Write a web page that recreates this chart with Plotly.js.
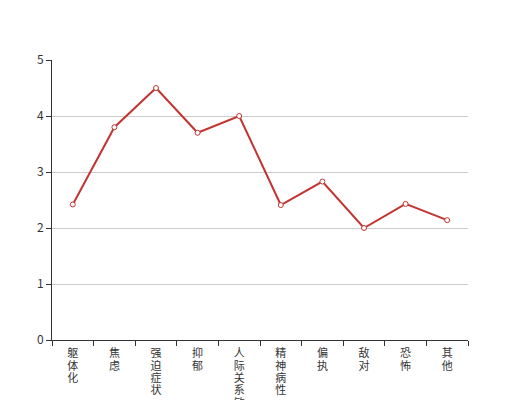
<!DOCTYPE html>
<html>
<head>
<meta charset="utf-8">
<script src="https://cdn.plot.ly/plotly-3.0.1.min.js"></script>
<style>html,body{margin:0;padding:0;background:#fff;}#chart{width:520px;height:400px;}</style>
</head>
<body>
<div id="chart"></div>
<script>
const categories = ["躯体化", "焦虑", "强迫症状", "抑郁", "人际关系敏感", "精神病性", "偏执", "敌对", "恐怖", "其他"];
const values = [2.42, 3.80, 4.50, 3.70, 4.00, 2.41, 2.83, 2.00, 2.43, 2.14];
const yTicks = [0, 1, 2, 3, 4, 5];

const tickText = categories.map(c => c.split("").join("<br>"));

const trace = {
  type: "scatter",
  mode: "lines+markers",
  x: categories,
  y: values,
  line: {color: "#c23531", width: 2},
  marker: {symbol: "circle", size: 5, color: "#ffffff", line: {color: "#c23531", width: 1}},
  hoverinfo: "x+y"
};

const layout = {
  width: 520,
  height: 400,
  margin: {l: 52, r: 52, t: 60, b: 60},
  paper_bgcolor: "#ffffff",
  plot_bgcolor: "#ffffff",
  showlegend: false,
  font: {family: "'Noto Sans CJK SC', 'Noto Sans', sans-serif", size: 12, color: "#333"},
  xaxis: {
    type: "category",
    tickvals: categories,
    ticktext: tickText,
    tickson: "boundaries",
    ticks: "outside",
    ticklen: 5,
    tickcolor: "#333",
    showline: true,
    linecolor: "#333",
    linewidth: 1,
    showgrid: false,
    zeroline: false,
    tickangle: 0,
    ticklabelstandoff: 3,
    tickfont: {size: 11, color: "#333"},
    range: [-0.5, 9.5],
    fixedrange: true
  },
  yaxis: {
    range: [0, 5],
    tickvals: yTicks,
    ticks: "outside",
    ticklen: 5,
    tickcolor: "#333",
    showline: true,
    linecolor: "#333",
    linewidth: 1,
    showgrid: true,
    gridcolor: "#cccccc",
    gridwidth: 1,
    zeroline: false,
    tickfont: {size: 12, color: "#333"},
    fixedrange: true
  }
};

Plotly.newPlot("chart", [trace], layout, {displayModeBar: false, staticPlot: true}).then(function (gd) {
  // character stacking step ≈ 12.4px, as in the reference
  gd.querySelectorAll(".xtick text tspan.line").forEach(function (t) {
    const dy = t.getAttribute("dy");
    if (dy && dy.indexOf("em") > 0) {
      const v = parseFloat(dy);
      t.setAttribute("dy", (v / 1.3 * (12.4 / 11)).toFixed(3) + "em");
    }
  });
});
</script>
</body>
</html>
